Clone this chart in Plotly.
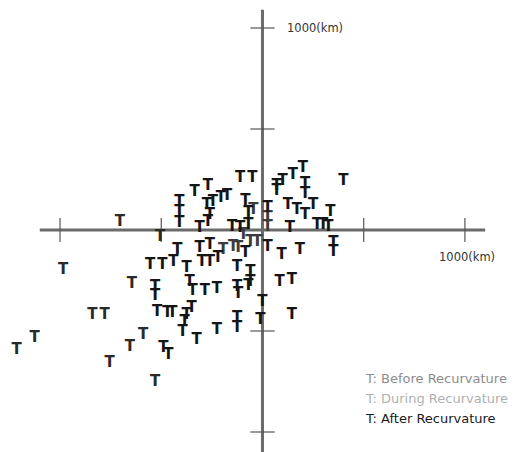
import plotly.graph_objects as go

# Track displacement points (km), grouped by recurvature stage
before_x = [-985, -1125, -1215, -840, -780, -755, -645, -590, -655, -530, -705, -505]
before_y = [-200, -535, -595, -420, -420, -660, -270, -520, -580, -755, 40, -35]

during_x = [-25, -95, -145, 25, 25, -45, -60, -120, -195]
during_y = [-60, -25, -85, 60, 15, 100, -60, -90, -100]

after_x = [-410, -410, -410, -335, -270, -275, -245, -205, -175, -260, -270, -310,
           -110, -50, -85, -70, -150, -110, -70, 25, -85,
           -420, -310, -260, -555, -495, -440, -375, -300, -260, -220,
           -530, -530, -360, -345, -285, -225, -125, -125, -70, -120, -60, -60,
           0, -10, -125, -125, -225, -520, -470, -445, -375, -385, -395, -325,
           -490, -465, -350,
           25, 95, 185, 85, 145, 145, 350, 350,
           200, 150, 210, 100, 70, 70, 210, 400, 125, 170, 210, 250, 335,
           270, 300, 325, 135]
after_y = [135, 90, 35, 185, 215, 125, 135, 155, 165, 75, 40, 10,
           255, 255, 140, 85, 15, 10, 25, 110, -115,
           -100, -90, -75, -175, -175, -160, -190, -160, -160, -140,
           -285, -330, -260, -305, -305, -295, -185, -285, -280, -320, -210, -260,
           -360, -445, -435, -485, -495, -405, -410, -410, -420, -455, -505, -545,
           -585, -620, -385,
           -85, -125, -100, -260, -250, -420, -65, -110,
           305, 270, 225, 240, 190, 215, 175, 240, 125, 100, 75, 125, 90,
           25, 25, 15, 10]

tick_vals = [-1000, -500, 500, 1000]
axis_label = "1000(km)"
legend_labels = ["T: Before Recurvature", "T: During Recurvature", "T: After Recurvature"]
legend_colors = ["#8c8c8c", "#b0b0b0", "#1a1a1a"]
marker_colors = ["#2a2a2a", "#3c3c3c", "#151515"]

W, H, OFF = 512, 444, 8  # page body margin offsets the figure by 8px

fig = go.Figure()
for xs, ys, col, name in [(before_x, before_y, marker_colors[0], legend_labels[0]),
                          (during_x, during_y, marker_colors[1], legend_labels[1]),
                          (after_x, after_y, marker_colors[2], legend_labels[2])]:
    fig.add_trace(go.Scatter(
        x=xs, y=ys, mode="text", text=["T"] * len(xs), name=name,
        textposition="middle center",
        textfont=dict(family="DejaVu Sans", size=15, color=col, weight="bold"),
        showlegend=False, hoverinfo="skip"))

shapes = []
axis_col = "#6a6a6a"
shapes.append(dict(type="line", x0=-1100, x1=1100, y0=0, y1=0,
                   line=dict(color=axis_col, width=3), layer="below"))
shapes.append(dict(type="line", x0=0, x1=0, y0=1090, y1=-1200,
                   line=dict(color=axis_col, width=3), layer="below"))
for t in tick_vals:
    shapes.append(dict(type="line", x0=t, x1=t, y0=-60, y1=60,
                       line=dict(color="#555", width=1.2), layer="below"))
    shapes.append(dict(type="line", x0=-60, x1=60, y0=t, y1=t,
                       line=dict(color="#555", width=1.2), layer="below"))

annotations = [
    dict(x=110, y=1000, text=axis_label, showarrow=False, xanchor="left", yanchor="middle",
         font=dict(family="DejaVu Sans", size=11.5, color="#333")),
    dict(x=1010, y=-135, text=axis_label, showarrow=False, xanchor="center", yanchor="middle",
         font=dict(family="DejaVu Sans", size=11.5, color="#333")),
]
legend_px_y = [378, 398, 418]
for lab, col, py in zip(legend_labels, legend_colors, legend_px_y):
    annotations.append(dict(x=(363 - OFF) / W, y=1 - (py - OFF) / H, xref="paper", yref="paper",
                            text=lab, showarrow=False, xanchor="left", yanchor="middle",
                            font=dict(family="DejaVu Sans", size=13, color=col)))

fig.update_layout(
    width=W, height=H,
    margin=dict(l=0, r=0, t=0, b=0),
    paper_bgcolor="white", plot_bgcolor="white",
    xaxis=dict(range=[-1257, 1272], visible=False, fixedrange=True),
    yaxis=dict(range=[-1099, 1099], visible=False, fixedrange=True),
    shapes=shapes, annotations=annotations,
)
fig.write_html("out.html")
